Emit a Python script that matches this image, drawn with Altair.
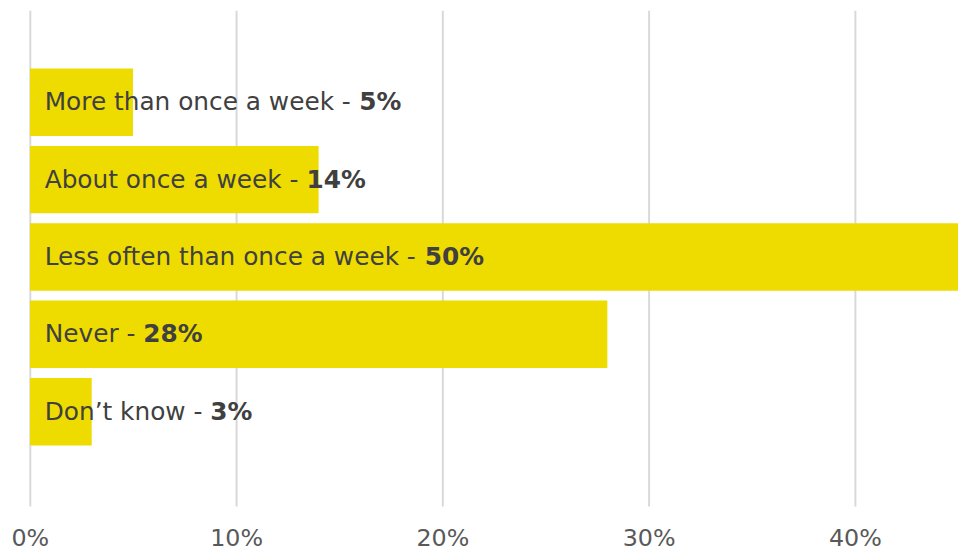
import altair as alt
import pandas as pd

categories = ["More than once a week", "About once a week",
              "Less often than once a week", "Never", "Don\u2019t know"]
values = [5, 14, 50, 28, 3]
tick_values = [0, 10, 20, 30, 40]

FONT = "DejaVu Sans"
FS = 24
TFS = 25
# DejaVu Sans advance widths (units per em = 2048) for laying out the mixed-weight label
ADV = {" ": 651, "-": 739, "\u2019": 651, "'": 563,
       "A": 1401, "D": 1577, "L": 1141, "M": 1767, "N": 1532,
       "a": 1255, "b": 1300, "c": 1126, "d": 1300, "e": 1260, "f": 721,
       "g": 1300, "h": 1298, "i": 569, "k": 1186, "l": 569, "m": 1995,
       "n": 1298, "o": 1253, "r": 842, "s": 1067, "t": 803, "u": 1298,
       "v": 1212, "w": 1675, "y": 1212}


def text_px(s):
    return sum(ADV.get(ch, 1250) for ch in s) / 2048 * TFS


LABEL_X = 15
df = pd.DataFrame({"cat": categories, "val": values})
df["prefix"] = df["cat"] + " - "
df["pct"] = df["val"].astype(str) + "%"
df["bold_x"] = [LABEL_X + text_px(p) for p in df["prefix"]]

y = alt.Y("cat:N", sort=categories, axis=None,
          scale=alt.Scale(paddingInner=0.128, paddingOuter=0.769, align=0.49))

bars = alt.Chart(df).mark_bar(color="#EEDC00", clip=True).encode(
    x=alt.X("val:Q", scale=alt.Scale(domain=[0, 45], nice=False, zero=True),
            axis=alt.Axis(values=tick_values, labelExpr="datum.value + '%'",
                          title=None, domain=False, ticks=False, grid=True,
                          gridColor="#D9D9D9", gridWidth=2, labelFlush=False,
                          labelFont=FONT, labelFontSize=FS, labelColor="#595959",
                          labelPadding=21)),
    y=y,
)

prefix_text = alt.Chart(df).mark_text(
    align="left", baseline="middle", font=FONT, fontSize=TFS, color="#404040"
).encode(x=alt.value(LABEL_X), y=y, text="prefix:N")

pct_text = alt.Chart(df).mark_text(
    align="left", baseline="middle", font=FONT, fontSize=TFS, fontWeight="bold",
    color="#404040"
).encode(x=alt.X("bold_x:Q", scale=None), y=y, text="pct:N")

chart = alt.layer(bars, prefix_text, pct_text).properties(
    width=936, height=500,
    padding={"left": 2, "top": 0, "right": 0, "bottom": 0},
    background="white",
).configure_view(strokeWidth=0, stroke="transparent")

chart.save("out.html", embed_options={"renderer": "svg", "actions": False})
